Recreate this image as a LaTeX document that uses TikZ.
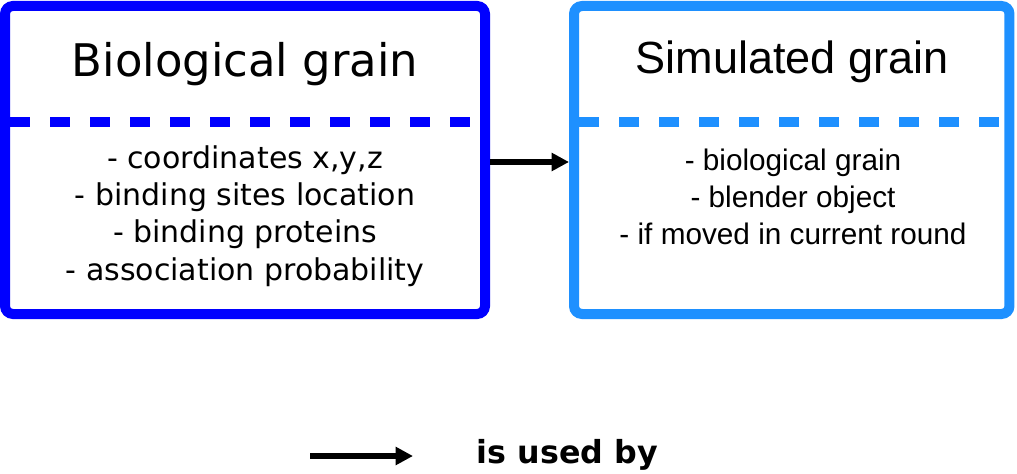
\documentclass[tikz,border=0pt]{standalone}
\usepackage{fontspec}
\setmainfont{DejaVu Sans}
\newfontfamily\arialfont{Liberation Sans}
\usetikzlibrary{arrows.meta}
\usetikzlibrary{calc}

\definecolor{biocolor}{RGB}{0,0,255}
\definecolor{simcolor}{RGB}{30,144,255}

\tikzset{
  grainbox/.style={draw, line width=7.5pt, rounded corners=6pt},
  splitline/.style={line width=7.5pt, dash pattern=on 15pt off 15pt},
  usedby/.style={line width=4.8pt, -{Triangle[length=13pt,width=13pt]}},
}

\begin{document}
\begin{tikzpicture}[x=0.75pt,y=-0.75pt]
    \useasboundingbox (0,0) rectangle (1017,474);

		% biological grain
		\coordinate (B1) at (5,6);
		\coordinate (B2) at (485,314);
		\node [grainbox, biocolor, inner sep=0pt, minimum width=360pt, minimum height=231pt] (bio) at ($ (B1)!0.5!(B2) $) {};
		\draw [splitline, biocolor] (10,122) -- (480,122);
		\node [font=\fontsize{33.7}{33.7}\selectfont] (biotitle) at (245,64) {Biological grain};
		\node [font=\fontsize{22.5}{28}\selectfont, align=center] (biotext) at (245,216)
			{- coordinates x,y,z\\- binding sites location\\- binding proteins\\- association probability};

		% simulated grain
		\coordinate (S1) at (574,6);
		\coordinate (S2) at (1009.5,314);
		\node [grainbox, simcolor, inner sep=0pt, minimum width=326.6pt, minimum height=231pt] (sim) at ($ (S1)!0.5!(S2) $) {};
		\draw [splitline, simcolor] (579,122) -- (1004,122);
		\node [font=\arialfont\fontsize{33.8}{33.8}\selectfont] (simtitle) at (792,62) {Simulated grain};
		\node [font=\arialfont\fontsize{22.3}{28}\selectfont, align=center] (simtext) at (793,197)
			{- biological grain\\- blender object\\- if moved in current round};

		\draw [usedby] ($ (bio.east)+(0,2) $) -- ($ (sim.west)+(0,2) $);

		% legend
		\coordinate (L1) at (310,456);
		\coordinate (L2) at (413,456);
		\draw [usedby] (L1) -- (L2);
		\node [font=\bfseries\fontsize{23.8}{23.8}\selectfont, anchor=west] (legend) at (472,455) {is used by};
\end{tikzpicture}
\end{document}
